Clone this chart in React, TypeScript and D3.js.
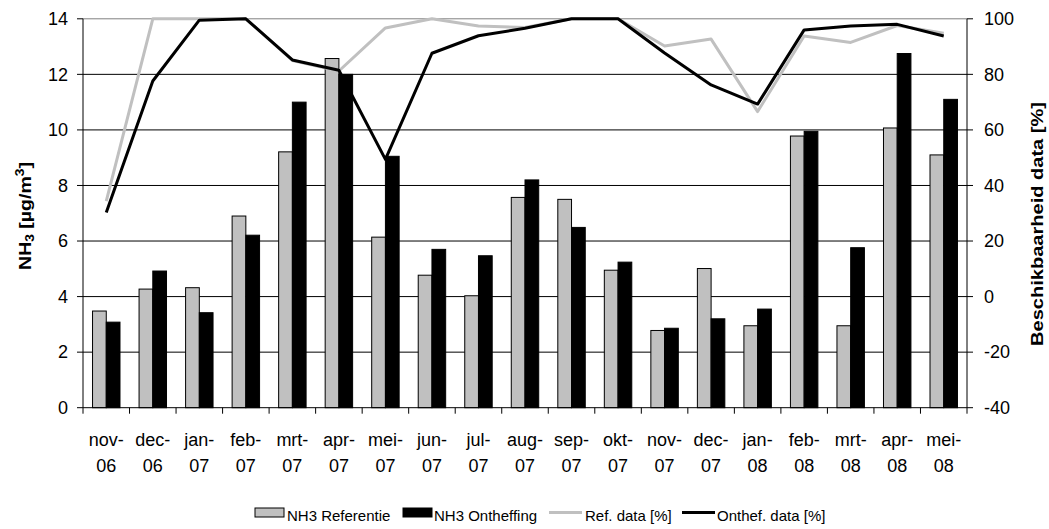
import React from "react";
import * as d3 from "d3";

const months = ["nov-", "dec-", "jan-", "feb-", "mrt-", "apr-", "mei-", "jun-", "jul-", "aug-", "sep-", "okt-", "nov-", "dec-", "jan-", "feb-", "mrt-", "apr-", "mei-"];
const years = ["06", "06", "07", "07", "07", "07", "07", "07", "07", "07", "07", "07", "07", "07", "08", "08", "08", "08", "08"];
const nh3Referentie = [3.48, 4.27, 4.32, 6.9, 9.21, 12.57, 6.14, 4.77, 4.03, 7.57, 7.5, 4.95, 2.78, 5.01, 2.95, 9.78, 2.95, 10.07, 9.1];
const nh3Ontheffing = [3.08, 4.92, 3.42, 6.21, 11.0, 12.0, 9.05, 5.7, 5.47, 8.2, 6.49, 5.24, 2.86, 3.2, 3.55, 9.95, 5.76, 12.75, 11.1];
const refData = [34.4, 100, 100, 100, 85, 81.2, 96.7, 100, 97.4, 96.9, 100, 100, 90.2, 92.7, 66.6, 93.8, 91.5, 97.6, 94.8];
const onthefData = [30.3, 77.6, 99.5, 100, 85.2, 81.5, 49.4, 87.6, 93.9, 96.6, 100, 100, 87.7, 76.2, 69.3, 96.0, 97.4, 98.0, 93.8];
const leftTicks = [0, 2, 4, 6, 8, 10, 12, 14];
const rightTicks = [-40, -20, 0, 20, 40, 60, 80, 100];

const W = 1049;
const H = 529;
const X0 = 83;
const X1 = 967;
const Y0 = 407.7;
const Y1 = 18.8;
const FONT = "'Liberation Sans', Arial, sans-serif";

export default function App() {
  const idx = months.map((_, i) => i);
  const x = d3.scaleBand<number>().domain(idx).range([X0, X1]).paddingInner(0).paddingOuter(0);
  const yL = d3.scaleLinear().domain([0, 14]).range([Y0, Y1]);
  const yR = d3.scaleLinear().domain([-40, 100]).range([Y0, Y1]);
  const bw = x.bandwidth() * 0.295;
  const cx = (i: number) => (x(i) as number) + x.bandwidth() / 2;

  const line = (vals: number[]) =>
    d3.line<number>().x((_, i) => cx(i)).y((v) => yR(v))(vals) || "";

  const boundaries = d3.range(months.length + 1).map((i) => X0 + i * x.bandwidth());

  return (
    <svg width={W} height={H} style={{ position: "absolute", left: 0, top: 0 }} fontFamily={FONT}>
      <rect x={0} y={0} width={W} height={H} fill="#fff" />
      {/* gridlines */}
      {leftTicks.filter((t) => t !== 0).map((t) => (
        <line key={"g" + t} x1={X0} x2={X1} y1={yL(t)} y2={yL(t)} stroke={t === 14 ? "#808080" : "#000"} strokeWidth={1} />
      ))}
      {/* bars */}
      {idx.map((i) => (
        <g key={"b" + i}>
          <rect x={cx(i) - bw} y={yL(nh3Referentie[i])} width={bw} height={Y0 - yL(nh3Referentie[i])} fill="#c0c0c0" stroke="#000" strokeWidth={1} />
          <rect x={cx(i)} y={yL(nh3Ontheffing[i])} width={bw} height={Y0 - yL(nh3Ontheffing[i])} fill="#000" stroke="#000" strokeWidth={1} />
        </g>
      ))}
      {/* lines */}
      <path d={line(refData)} fill="none" stroke="#c0c0c0" strokeWidth={3} strokeLinejoin="round" />
      <path d={line(onthefData)} fill="none" stroke="#000" strokeWidth={3} strokeLinejoin="round" />
      {/* axes */}
      <line x1={X0} x2={X0} y1={Y1} y2={Y0} stroke="#000" />
      <line x1={X1} x2={X1} y1={Y1} y2={Y0} stroke="#000" />
      <line x1={X0} x2={X1} y1={Y0} y2={Y0} stroke="#000" />
      {leftTicks.map((t) => (
        <g key={"l" + t}>
          <line x1={X0 - 6} x2={X0} y1={yL(t)} y2={yL(t)} stroke="#000" />
          <text x={X0 - 15} y={yL(t)} dy="0.35em" textAnchor="end" fontSize={18} fill="#000">{t}</text>
        </g>
      ))}
      {rightTicks.map((t) => (
        <g key={"r" + t}>
          <line x1={X1} x2={X1 + 6} y1={yR(t)} y2={yR(t)} stroke="#000" />
          <text x={X1 + 17} y={yR(t)} dy="0.35em" textAnchor="start" fontSize={18} fill="#000">{t}</text>
        </g>
      ))}
      {boundaries.map((b, i) => (
        <line key={"t" + i} x1={b} x2={b} y1={Y0} y2={Y0 + 6} stroke="#000" />
      ))}
      {idx.map((i) => (
        <g key={"x" + i}>
          <text x={cx(i)} y={446} textAnchor="middle" fontSize={18} fill="#000">{months[i]}</text>
          <text x={cx(i)} y={472} textAnchor="middle" fontSize={18} fill="#000">{years[i]}</text>
        </g>
      ))}
      {/* axis titles */}
      <text transform="translate(31,216) rotate(-90) scale(1.15,1)" textAnchor="middle" fontSize={17} fontWeight="bold" fill="#000">
        NH<tspan fontSize={12} dy={3}>3</tspan><tspan dy={-3}> [µg/m</tspan><tspan fontSize={12} dy={-7}>3</tspan><tspan dy={7}>]</tspan>
      </text>
      <text transform="translate(1043,224) rotate(-90) scale(1.18,1)" textAnchor="middle" fontSize={17} fontWeight="bold" fill="#000">
        Beschikbaarheid data [%]
      </text>
      {/* legend */}
      <g fontSize={15} fill="#000">
        <rect x={255} y={508} width={29} height={9} fill="#c0c0c0" stroke="#000" strokeWidth={1} />
        <text x={287} y={521}>NH3 Referentie</text>
        <rect x={403} y={508} width={29} height={9} fill="#000" stroke="#000" strokeWidth={1} />
        <text x={434} y={521}>NH3 Ontheffing</text>
        <line x1={549} x2={582} y1={512.5} y2={512.5} stroke="#c0c0c0" strokeWidth={3} />
        <text x={585} y={521}>Ref. data [%]</text>
        <line x1={682} x2={715} y1={512.5} y2={512.5} stroke="#000" strokeWidth={3} />
        <text x={717} y={521}>Onthef. data [%]</text>
      </g>
    </svg>
  );
}
